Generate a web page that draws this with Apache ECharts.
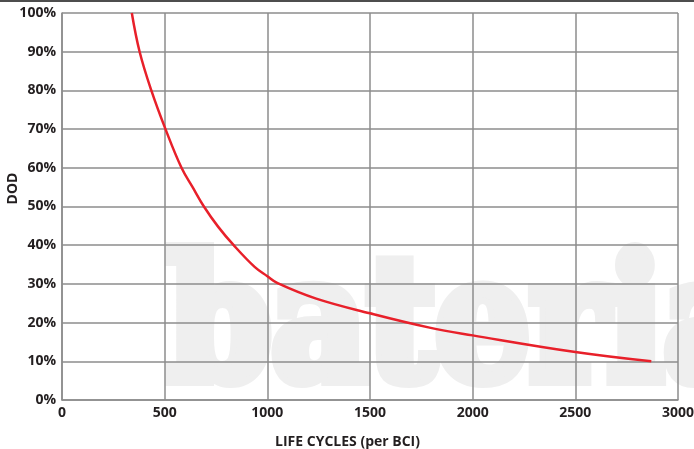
<!DOCTYPE html>
<html>
<head>
<meta charset="utf-8">
<script src="https://cdn.jsdelivr.net/npm/echarts@6/dist/echarts.min.js"></script>
<style>
  html, body { margin: 0; padding: 0; background: #fff; }
  #container { width: 694px; height: 449px; }
</style>
</head>
<body>
<div id="container"></div>
<script>
// cycles vs depth of discharge
var cycles = [340, 378, 435, 504, 582, 636, 691, 760, 836, 938, 1000, 1050, 1238, 1500, 1790, 2000, 2500, 2870];
var dod = [100, 90, 80, 70, 60, 55, 50, 44.8, 40, 34.4, 32, 30.2, 26.2, 22.4, 18.7, 16.7, 12.4, 10];

var gridColor = '#8c8c8c';
var labelFont = {
    color: '#231f20',
    fontFamily: 'Open Sans',
    fontWeight: 'bold',
    fontSize: 14
};

var data = [];
for (var i = 0; i < cycles.length; i++) {
    data.push([cycles[i], dod[i]]);
}

var option = {
    animation: false,
    backgroundColor: '#fff',
    grid: {
        left: 62,
        right: 16,
        top: 13,
        bottom: 49,
        outerBoundsMode: 'none'
    },
    graphic: [
        {
            type: 'rect',
            left: 0,
            top: 0,
            z: 100,
            shape: { width: 694, height: 2 },
            style: { fill: '#4d4d4d' }
        },
        {
            // watermark
            type: 'text',
            x: 168,
            y: 250,
            scaleX: 0.87,
            z: -10,
            silent: true,
            style: {
                text: 'bateria',
                fill: '#efefef',
                stroke: '#efefef',
                lineWidth: 14,
                lineJoin: 'round',
                fontFamily: 'DejaVu Serif',
                fontWeight: 'bold',
                fontSize: 170,
                verticalAlign: 'top'
            }
        }
    ],
    xAxis: {
        type: 'value',
        min: 0,
        max: 3000,
        interval: 500,
        name: 'LIFE CYCLES (per BCI)',
        nameLocation: 'middle',
        nameGap: 35,
        nameMoveOverlap: false,
        nameTextStyle: {
            color: '#231f20',
            fontFamily: 'Open Sans',
            fontWeight: 'bold',
            fontSize: 14,
            padding: [0, 45, 0, 0]
        },
        axisLine: { show: true, lineStyle: { color: gridColor, width: 1.5 } },
        axisTick: { show: false },
        axisLabel: Object.assign({
            margin: 6,
            formatter: function (v) { return String(v); }
        }, labelFont),
        splitLine: { show: true, lineStyle: { color: gridColor, width: 1.5 } }
    },
    yAxis: {
        type: 'value',
        min: 0,
        max: 100,
        interval: 10,
        name: 'DOD',
        nameLocation: 'middle',
        nameGap: 42,
        nameMoveOverlap: false,
        nameTextStyle: {
            color: '#231f20',
            fontFamily: 'Open Sans',
            fontWeight: 'bold',
            fontSize: 14,
            padding: [0, 0, 0, 36]
        },
        axisLine: { show: true, lineStyle: { color: gridColor, width: 1.5 } },
        axisTick: { show: false },
        axisLabel: Object.assign({ margin: 6, formatter: '{value}%' }, labelFont),
        splitLine: { show: true, lineStyle: { color: gridColor, width: 1.5 } }
    },
    series: [{
        type: 'line',
        data: data,
        smooth: 0.4,
        showSymbol: false,
        lineStyle: { color: '#e8202a', width: 2.5 },
        z: 5
    }]
};

var myChart = echarts.init(document.getElementById('container'));
myChart.setOption(option);
</script>
</body>
</html>
